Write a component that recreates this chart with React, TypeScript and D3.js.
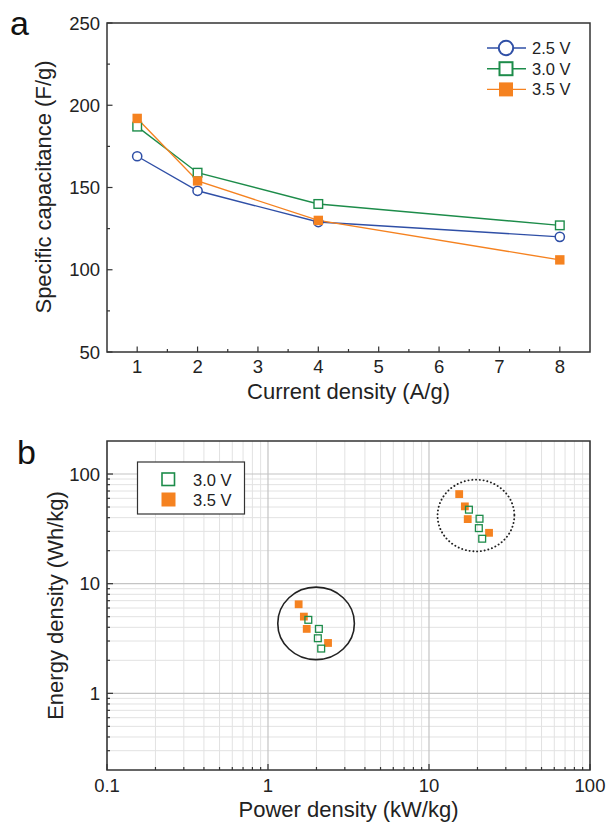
import React, { useEffect, useRef } from "react";
import * as d3 from "d3";

// panel a: specific capacitance vs current density
const currentDensity = [1, 2, 4, 8];
const cap25 = [169, 148, 129, 120];
const cap30 = [187, 159, 140, 127];
const cap35 = [192, 154, 130, 106];
const capTicks = [50, 100, 150, 200, 250];
const curTicks = [1, 2, 3, 4, 5, 6, 7, 8];

// panel b: Ragone plot
const power30 = [17.7, 20.6, 20.4, 21.4, 1.78, 2.07, 2.04, 2.14];
const energy30 = [47.3, 39.1, 32.1, 25.7, 4.68, 3.87, 3.18, 2.56];
const power35 = [15.4, 16.7, 17.4, 23.6, 1.55, 1.67, 1.74, 2.36];
const energy35 = [65.6, 50.7, 38.8, 29.1, 6.49, 5.01, 3.87, 2.88];
const powerTicks = [0.1, 1, 10, 100];
const energyTicks = [1, 10, 100];

// groups circled in panel b: [pMin, pMax, eMin, eMax]
const groupLow = [1.15, 3.44, 2.03, 9.3];
const groupHigh = [11.3, 33.9, 19.7, 88.8];

const BLUE = "#2f4fa6";
const GREEN = "#1d8c4a";
const ORANGE = "#f58220";
const FONT = "'Liberation Sans', Arial, Helvetica, sans-serif";

const App = () => {
  const ref = useRef(null);

  useEffect(() => {
    const svg = d3.select(ref.current);
    svg.selectAll("*").remove();
    svg.attr("font-family", FONT);

    // ---------- panel a ----------
    const xa = d3.scaleLinear().domain([0.5, 8.5]).range([107, 590]);
    const ya = d3.scaleLinear().domain([50, 250]).range([352, 23]);
    const ga = svg.append("g");

    // ticks (inward)
    const minorX = d3.range(1.5, 8, 1);
    ga.selectAll(".xt").data(curTicks).enter().append("line")
      .attr("x1", (d) => xa(d)).attr("x2", (d) => xa(d))
      .attr("y1", 352).attr("y2", 346.5)
      .attr("stroke", "#333").attr("stroke-width", 1.2);
    ga.selectAll(".xm").data(minorX).enter().append("line")
      .attr("x1", (d) => xa(d)).attr("x2", (d) => xa(d))
      .attr("y1", 352).attr("y2", 349)
      .attr("stroke", "#333").attr("stroke-width", 1.2);
    ga.selectAll(".yt").data(capTicks).enter().append("line")
      .attr("x1", 107).attr("x2", 112.5)
      .attr("y1", (d) => ya(d)).attr("y2", (d) => ya(d))
      .attr("stroke", "#333").attr("stroke-width", 1.2);
    ga.selectAll(".ym").data([75, 125, 175, 225]).enter().append("line")
      .attr("x1", 107).attr("x2", 110)
      .attr("y1", (d) => ya(d)).attr("y2", (d) => ya(d))
      .attr("stroke", "#333").attr("stroke-width", 1.2);

    ga.selectAll(".xl").data(curTicks).enter().append("text")
      .attr("x", (d) => xa(d)).attr("y", 373)
      .attr("text-anchor", "middle").attr("font-size", 18.5).attr("fill", "#222")
      .text((d) => d);
    ga.selectAll(".yl").data(capTicks).enter().append("text")
      .attr("x", 100).attr("y", (d) => ya(d) + 6.5)
      .attr("text-anchor", "end").attr("font-size", 18.5).attr("fill", "#222")
      .text((d) => d);

    const seriesA = [
      { vals: cap25, color: BLUE, shape: "circle" },
      { vals: cap30, color: GREEN, shape: "open" },
      { vals: cap35, color: ORANGE, shape: "filled" },
    ];
    const line = d3.line<number>()
      .x((_, i) => xa(currentDensity[i]))
      .y((d) => ya(d));

    seriesA.forEach((s) => {
      ga.append("path").datum(s.vals)
        .attr("d", line).attr("fill", "none")
        .attr("stroke", s.color).attr("stroke-width", 1.4);
    });
    seriesA.forEach((s) => {
      const pts = s.vals.map((v, i) => [xa(currentDensity[i]), ya(v)]);
      if (s.shape === "circle") {
        ga.selectAll(null).data(pts).enter().append("circle")
          .attr("cx", (d) => d[0]).attr("cy", (d) => d[1]).attr("r", 4.6)
          .attr("fill", "white").attr("stroke", s.color).attr("stroke-width", 1.5);
      } else if (s.shape === "open") {
        ga.selectAll(null).data(pts).enter().append("rect")
          .attr("x", (d) => d[0] - 4.3).attr("y", (d) => d[1] - 4.3)
          .attr("width", 8.6).attr("height", 8.6)
          .attr("fill", "white").attr("stroke", s.color).attr("stroke-width", 1.4);
      } else {
        ga.selectAll(null).data(pts).enter().append("rect")
          .attr("x", (d) => d[0] - 4.7).attr("y", (d) => d[1] - 4.7)
          .attr("width", 9.4).attr("height", 9.4)
          .attr("fill", s.color);
      }
    });

    // legend a
    const legA = [
      { label: "2.5 V", color: BLUE, shape: "circle" },
      { label: "3.0 V", color: GREEN, shape: "open" },
      { label: "3.5 V", color: ORANGE, shape: "filled" },
    ];
    legA.forEach((l, i) => {
      const y = 48 + i * 20.7;
      ga.append("line").attr("x1", 487).attr("x2", 526).attr("y1", y).attr("y2", y)
        .attr("stroke", l.color).attr("stroke-width", 1.4);
      if (l.shape === "circle") {
        ga.append("circle").attr("cx", 506).attr("cy", y).attr("r", 7.2)
          .attr("fill", "white").attr("stroke", l.color).attr("stroke-width", 2);
      } else if (l.shape === "open") {
        ga.append("rect").attr("x", 499.5).attr("y", y - 6.5).attr("width", 13).attr("height", 13)
          .attr("fill", "white").attr("stroke", l.color).attr("stroke-width", 2);
      } else {
        ga.append("rect").attr("x", 499).attr("y", y - 7).attr("width", 14).attr("height", 14)
          .attr("fill", l.color);
      }
      ga.append("text").attr("x", 532).attr("y", y + 6)
        .attr("font-size", 16.5).attr("fill", "#222").text(l.label);
    });

    ga.append("rect").attr("x", 107).attr("y", 23).attr("width", 483).attr("height", 329)
      .attr("fill", "none").attr("stroke", "#333").attr("stroke-width", 1.5);

    ga.append("text").attr("transform", "translate(51,187) rotate(-90)")
      .attr("text-anchor", "middle").attr("font-size", 22).attr("fill", "#222")
      .text("Specific capacitance (F/g)");
    ga.append("text").attr("x", 348.5).attr("y", 399)
      .attr("text-anchor", "middle").attr("font-size", 22).attr("fill", "#222")
      .text("Current density (A/g)");
    ga.append("text").attr("x", 10).attr("y", 35)
      .attr("font-size", 34).attr("fill", "#111").text("a");

    // ---------- panel b ----------
    const xb = d3.scaleLog().domain([0.1, 100]).range([107, 590]);
    const yb = d3.scaleLog().domain([0.2, 200]).range([770, 441]);
    const gb = svg.append("g");

    const minorP = [0.1, 1, 10].flatMap((d) => d3.range(2, 10).map((k) => d * k));
    const minorE = [0.1, 1, 10, 100].flatMap((d) => d3.range(2, 10).map((k) => d * k))
      .filter((v) => v > 0.2 && v < 200);

    gb.selectAll(".gxm").data(minorP).enter().append("line")
      .attr("x1", (d) => xb(d)).attr("x2", (d) => xb(d)).attr("y1", 441).attr("y2", 770)
      .attr("stroke", "#e2e2e2").attr("stroke-width", 1);
    gb.selectAll(".gym").data(minorE).enter().append("line")
      .attr("x1", 107).attr("x2", 590).attr("y1", (d) => yb(d)).attr("y2", (d) => yb(d))
      .attr("stroke", "#e2e2e2").attr("stroke-width", 1);
    gb.selectAll(".gx").data(powerTicks).enter().append("line")
      .attr("x1", (d) => xb(d)).attr("x2", (d) => xb(d)).attr("y1", 441).attr("y2", 770)
      .attr("stroke", "#c4c4c4").attr("stroke-width", 1.2);
    gb.selectAll(".gy").data(energyTicks).enter().append("line")
      .attr("x1", 107).attr("x2", 590).attr("y1", (d) => yb(d)).attr("y2", (d) => yb(d))
      .attr("stroke", "#c4c4c4").attr("stroke-width", 1.2);

    // ticks
    gb.selectAll(".xt").data(powerTicks).enter().append("line")
      .attr("x1", (d) => xb(d)).attr("x2", (d) => xb(d)).attr("y1", 770).attr("y2", 764)
      .attr("stroke", "#333").attr("stroke-width", 1.2);
    gb.selectAll(".xm").data(minorP).enter().append("line")
      .attr("x1", (d) => xb(d)).attr("x2", (d) => xb(d)).attr("y1", 770).attr("y2", 767)
      .attr("stroke", "#333").attr("stroke-width", 1.2);
    gb.selectAll(".yt").data(energyTicks).enter().append("line")
      .attr("x1", 107).attr("x2", 113).attr("y1", (d) => yb(d)).attr("y2", (d) => yb(d))
      .attr("stroke", "#333").attr("stroke-width", 1.2);
    gb.selectAll(".ym").data(minorE).enter().append("line")
      .attr("x1", 107).attr("x2", 110).attr("y1", (d) => yb(d)).attr("y2", (d) => yb(d))
      .attr("stroke", "#333").attr("stroke-width", 1.2);

    gb.selectAll(".xl").data(powerTicks).enter().append("text")
      .attr("x", (d) => xb(d)).attr("y", 792)
      .attr("text-anchor", "middle").attr("font-size", 18.5).attr("fill", "#222")
      .text((d) => String(d));
    gb.selectAll(".yl").data(energyTicks).enter().append("text")
      .attr("x", 100).attr("y", (d) => yb(d) + 6.5)
      .attr("text-anchor", "end").attr("font-size", 18.5).attr("fill", "#222")
      .text((d) => String(d));

    // circled groups
    [groupLow, groupHigh].forEach((g, i) => {
      const x0 = xb(g[0]), x1 = xb(g[1]), y0 = yb(g[3]), y1 = yb(g[2]);
      gb.append("ellipse")
        .attr("cx", (x0 + x1) / 2).attr("cy", (y0 + y1) / 2)
        .attr("rx", (x1 - x0) / 2).attr("ry", (y1 - y0) / 2)
        .attr("fill", "none").attr("stroke", "#222")
        .attr("stroke-width", i === 0 ? 1.6 : 1.9)
        .attr("stroke-dasharray", i === 0 ? null : "0.1 3.7")
        .attr("stroke-linecap", "round");
    });

    gb.selectAll(".p35").data(power35).enter().append("rect")
      .attr("x", (d) => xb(d) - 3.9).attr("y", (_, i) => yb(energy35[i]) - 3.9)
      .attr("width", 7.8).attr("height", 7.8).attr("fill", ORANGE);
    gb.selectAll(".p30").data(power30).enter().append("rect")
      .attr("x", (d) => xb(d) - 3.4).attr("y", (_, i) => yb(energy30[i]) - 3.4)
      .attr("width", 6.8).attr("height", 6.8)
      .attr("fill", "none").attr("stroke", GREEN).attr("stroke-width", 1.3);

    // legend b
    gb.append("rect").attr("x", 137.5).attr("y", 462).attr("width", 107).attr("height", 52)
      .attr("fill", "white").attr("stroke", "#333").attr("stroke-width", 1.2);
    gb.append("rect").attr("x", 162).attr("y", 473).attr("width", 12.5).attr("height", 12.5)
      .attr("fill", "white").attr("stroke", GREEN).attr("stroke-width", 1.6);
    gb.append("rect").attr("x", 161.5).attr("y", 492.5).attr("width", 14).attr("height", 14)
      .attr("fill", ORANGE);
    gb.append("text").attr("x", 193).attr("y", 485.5)
      .attr("font-size", 16.5).attr("fill", "#222").text("3.0 V");
    gb.append("text").attr("x", 193).attr("y", 505.5)
      .attr("font-size", 16.5).attr("fill", "#222").text("3.5 V");

    gb.append("rect").attr("x", 107).attr("y", 441).attr("width", 483).attr("height", 329)
      .attr("fill", "none").attr("stroke", "#333").attr("stroke-width", 1.5);

    gb.append("text").attr("transform", "translate(63,605.5) rotate(-90)")
      .attr("text-anchor", "middle").attr("font-size", 22).attr("fill", "#222")
      .text("Energy density (Wh/kg)");
    gb.append("text").attr("x", 348.5).attr("y", 817)
      .attr("text-anchor", "middle").attr("font-size", 22).attr("fill", "#222")
      .text("Power density (kW/kg)");
    gb.append("text").attr("x", 17).attr("y", 464)
      .attr("font-size", 34).attr("fill", "#111").text("b");
  }, []);

  return (
    <svg
      ref={ref}
      width={607}
      height={823}
      style={{ position: "absolute", left: 0, top: 0, background: "white" }}
    ></svg>
  );
};

export default App;
